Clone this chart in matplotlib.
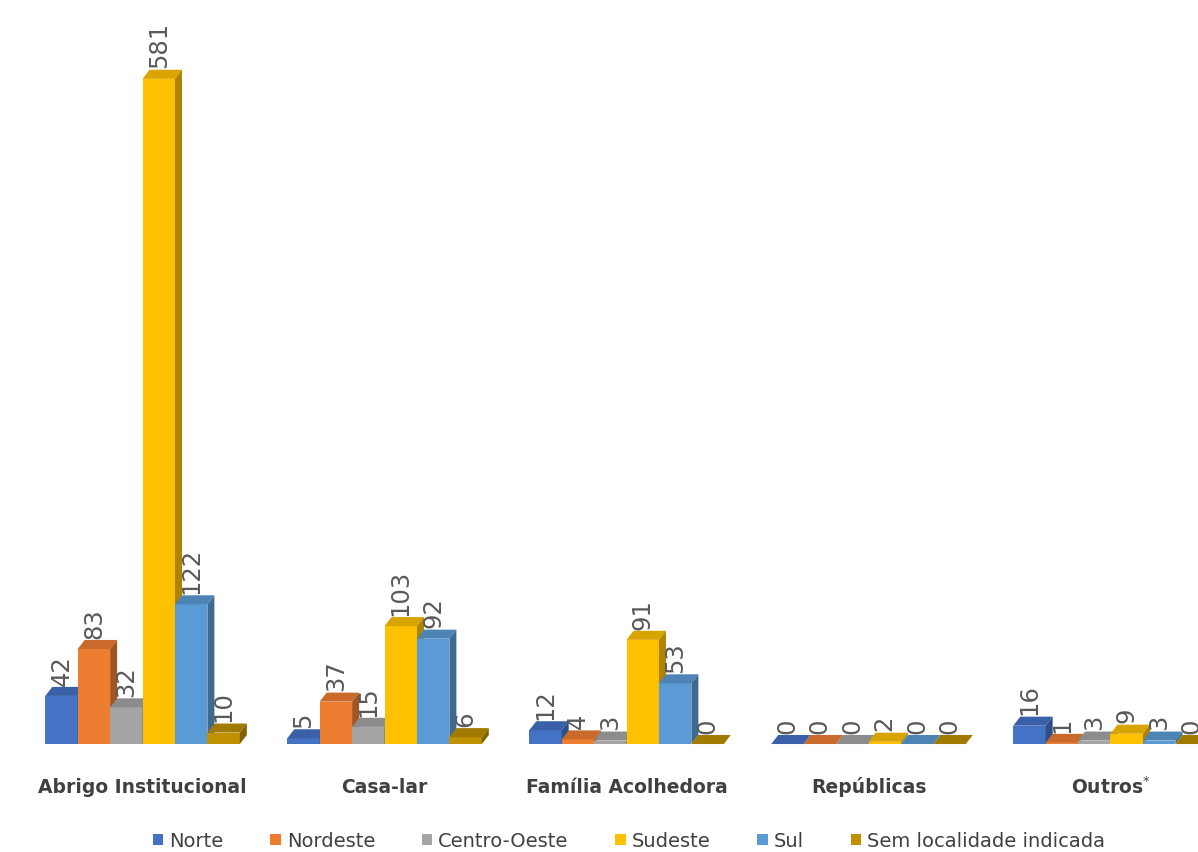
import numpy as np
import matplotlib.pyplot as plt
from matplotlib.patches import Polygon, Patch
from matplotlib.colors import to_rgb

categories = ["Abrigo Institucional", "Casa-lar", "Família Acolhedora", "Repúblicas", "Outros$^{*}$"]
regions = ["Norte", "Nordeste", "Centro-Oeste", "Sudeste", "Sul", "Sem localidade indicada"]
norte = [42, 5, 12, 0, 16]
nordeste = [83, 37, 4, 0, 1]
centro_oeste = [32, 15, 3, 0, 3]
sudeste = [581, 103, 91, 2, 9]
sul = [122, 92, 53, 0, 3]
sem_local = [10, 6, 0, 0, 0]
series = [norte, nordeste, centro_oeste, sudeste, sul, sem_local]
colors = ["#4472C4", "#ED7D31", "#A5A5A5", "#FFC000", "#5B9BD5", "#BF9000"]


def shade(c, f):
    r, g, b = to_rgb(c)
    return (r * f, g * f, b * f)


fig = plt.figure(figsize=(11.98, 8.53), dpi=100)
ax = fig.add_axes([0, 0, 1, 1])
ax.axis("off")

# 3d look: depth offset of each column
w = 0.134
dx = 0.029
dy = 7.9

x = np.arange(len(categories))
z = 2
for i in range(len(categories)):
    for j, vals in enumerate(series):
        h = vals[i]
        x0 = x[i] + (j - 3) * w
        c = colors[j]
        ax.bar(x0, h, width=w, align="edge", color=c, zorder=z, linewidth=0)
        top = Polygon([(x0, h), (x0 + w, h), (x0 + w + dx, h + dy), (x0 + dx, h + dy)],
                      closed=True, facecolor=shade(c, 0.85), edgecolor="none", zorder=z)
        side = Polygon([(x0 + w, 0), (x0 + w, h), (x0 + w + dx, h + dy), (x0 + w + dx, dy)],
                       closed=True, facecolor=shade(c, 0.68), edgecolor="none", zorder=z)
        ax.add_patch(top)
        ax.add_patch(side)
        ax.text(x0 + w / 2, h + dy + 2, str(h), rotation=90, ha="center", va="bottom",
                fontsize=17.5, color="#595959", zorder=50)
        z += 1

for i, cat in enumerate(categories):
    ax.text(x[i], -36.7, cat, ha="center", va="center", fontsize=13.5,
            fontweight="semibold", color="#404040")

ax.set_xlim(-0.589, 4.3616)
ax.set_ylim(-94.3, 650.7)

handles = [Patch(facecolor=c, edgecolor="none") for c in colors]
fig.legend(handles, regions, loc="center", bbox_to_anchor=(0.525, 0.013), ncol=6,
           frameon=False, fontsize=14, handlelength=0.55, handleheight=0.55,
           handletextpad=0.3, columnspacing=2.4, labelcolor="#404040")

fig.savefig("out.png", dpi=100)
